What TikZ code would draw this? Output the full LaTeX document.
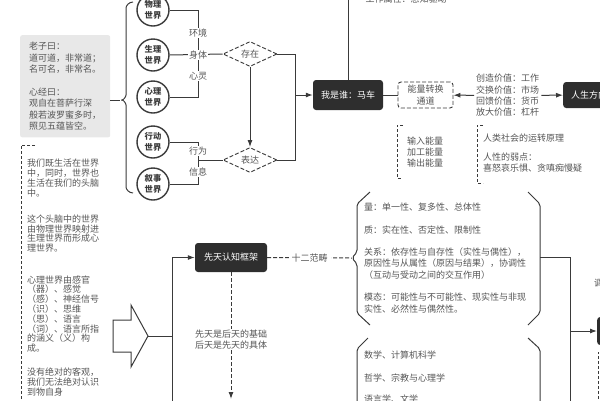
\documentclass[tikz,border=0pt]{standalone}
\usepackage{fontspec}
\setmainfont{Noto Sans CJK SC}
\usetikzlibrary{shapes.geometric,arrows.meta}
\definecolor{inkline}{HTML}{3A3A3A}
\definecolor{inktext}{HTML}{555555}
\definecolor{inkbox}{HTML}{2E2E2E}
\definecolor{inkfill}{HTML}{E8E8E8}
\newcommand{\txtfont}{\fontsize{9}{11.4}\selectfont}
\newcommand{\parafont}{\fontsize{9}{9.8}\selectfont}

\begin{document}
\begin{tikzpicture}[x=1pt, y=-1pt,
		every node/.append style={inner sep=0pt, text=inktext, font=\txtfont},
		world/.style={circle, draw=inkline, line width=1.4pt, minimum size=32pt, align=center,
			font=\fontsize{8.3}{10.5}\selectfont\bfseries, text=inkline},
		darkbox/.style={rectangle, rounded corners=3pt, fill=inkbox, text=white, minimum height=29pt, inner xsep=8pt},
		dashbox/.style={rectangle, rounded corners=3pt, draw=inkline, dash pattern=on 4pt off 2pt, line width=0.9pt,
			align=center, minimum width=55pt, minimum height=26pt},
		gate/.style={diamond, aspect=2, draw=inkline, dash pattern=on 4pt off 2pt, line width=0.9pt,
			minimum width=54pt, minimum height=25pt},
		tag/.style={fill=white, inner sep=1pt},
		note/.style={anchor=west, align=left},
		link/.style={draw=inkline, line width=1pt},
		arr/.style={link, -{Latex[length=7pt, width=5pt]}},
		dasharr/.style={arr, dash pattern=on 4pt off 2pt},
		bracket/.style={draw=inkline, line width=1pt, rounded corners=2pt},
		dashbr/.style={draw=inkline, line width=1pt, dash pattern=on 3pt off 2pt}]
	\useasboundingbox (0,0) rectangle (600,400);
	
	\node[fill=inkfill, rounded corners=2pt, anchor=north west, align=left, inner xsep=8pt, inner ysep=7pt,
		minimum width=90pt] (sage) at (20,35) {老子曰：\\道可道，非常道；\\名可名，非常名。\\[11.4pt]心经曰：\\观自在菩萨行深\\般若波罗蜜多时，\\照见五蕴皆空。};
	\coordinate (braceTip) at (120,100);
	\draw[link] (sage.east |- braceTip) -- (braceTip);
	\draw[bracket] (133,2) to[out=180, in=90] (126,10) -- (126,93) to[out=270, in=0] (braceTip)
		to[out=0, in=90] (126,107) -- (126,185) to[out=270, in=180] (133,193);
	
	\node[world] (phys) at (153,10) {物理\\世界};
	\node[world] (bio) at (153,55) {生理\\世界};
	\node[world] (mind) at (153,97) {心理\\世界};
	\node[world] (act) at (153,142) {行动\\世界};
	\node[world] (story) at (153,184) {叙事\\世界};
	
	\node[gate] (exist) at (250,54) {存在};
	\node[gate] (express) at (250,160) {表达};
	
	\coordinate (jTop) at (198,55);
	\coordinate (jBot) at (198,160);
	\draw[link] (phys.east) -| (jTop);
	\draw[link] (mind.east) -| (jTop);
	\draw[link] (bio.east) -- (exist.west);
	\draw[link] (act.east) -| (jBot);
	\draw[link] (story.east) -| (jBot);
	\draw[link] (jBot) -- (express.west);
	\node[tag] at (198,33) {环境};
	\node[tag] at (198,55) {身体};
	\node[tag] at (198,76) {心灵};
	\node[tag] at (198,151) {行为};
	\node[tag] at (198,172) {信息};
	\draw[arr] (exist) -- (express);
	
	\node[darkbox, minimum width=70pt, minimum height=30pt] (who) at (348,95) {我是谁：马车};
	\coordinate (jMid) at (295,95);
	\draw[link] (exist.east) -| (jMid);
	\draw[link] (express.east) -| (jMid);
	\draw[arr] (jMid) -- (who);
	\coordinate (whoTop) at (348,-2);
	\draw[link] (who) -- (whoTop);
	\node (duty) at (406,-1) {工作属性：感知驱动};
	
	\node[dashbox] (channel) at (425.5,95) {能量转换\\通道};
	\draw[link] (who) -- (channel);
	\node[note, inner xsep=2pt] (values) at (474,95.5) {创造价值：工作\\交换价值：市场\\回馈价值：货币\\放大价值：杠杆};
	\node[darkbox, anchor=west, minimum height=26pt] (life) at (563,95) {人生方向};
	\draw[arr] (values) -- (channel);
	\draw[arr] (values) -- (life);
	
	\draw[dashbr] (403,125) -- (397,125) -- (397,178) -- (402,178);
	\node[note] (energy) at (407,152) {输入能量\\加工能量\\输出能量};
	\draw[dashbr] (483,125) -- (477,125) -- (477,183) -- (483,183);
	\node[note] (society) at (483,153) {人类社会的运转原理\\[8pt]人性的弱点：\\喜怒哀乐惧、贪嗔痴慢疑};
	
	\draw[dashbr] (35,145) -- (21,145) -- (21,402);
	\node[note, font=\parafont] (live) at (27,178) {我们既生活在世界\\中，同时，世界也\\生活在我们的头脑\\中。};
	\node[note, font=\parafont] (mapping) at (27,233.5) {这个头脑中的世界\\由物理世界映射进\\生理世界而形成心\\理世界。};
	\node[note, font=\parafont] (senses) at (27,314) {心理世界由感官\\（器）、感觉\\（感）、神经信号\\（识）、思维\\（思）、语言\\（词）、语言所指\\的涵义（义）构\\成。};
	\node[note, font=\parafont] (object) at (27,382) {没有绝对的客观，\\我们无法绝对认识\\到物自身};
	
	\draw[link, line join=miter] (113,320) -- (131,320) -- (131,305) -- (148,336) -- (131,367) -- (131,352) -- (113,352) -- cycle;
	\coordinate (tip) at (148,336);
	\coordinate (spineMid) at (172,336);
	\coordinate (spineBot) at (172,402);
	\draw[link] (tip) -- (spineMid);
	\node[darkbox, minimum width=72pt] (innate) at (231,257.5) {先天认知框架};
	\draw[arr] (spineBot) |- (innate);
	
	\coordinate (catTip) at (352,258);
	\coordinate (innateEnd) at (231,399);
	\draw[link, dash pattern=on 4pt off 2pt] (innate) -- node[tag, inner xsep=3pt] {十二范畴} (catTip);
	\draw[dasharr] (innate) -- node[tag, pos=0.53, align=center] {先天是后天的基础\\后天是先天的具体} (innateEnd);
	
	\draw[bracket] (370,192) -- (357,204) -- (357,252) -- (catTip) -- (357,264) -- (357,313) -- (370,325);
	\draw[bracket] (528,192) -- (540,204) -- (540,313) -- (528,325);
	\node[note] (quantity) at (364,207) {量：单一性、复多性、总体性};
	\node[note] (quality) at (364,230) {质：实在性、否定性、限制性};
	\node[note] (relation) at (364,263.5) {关系：依存性与自存性（实性与偶性），\\原因性与从属性（原因与结果），协调性\\（互动与受动之间的交互作用）};
	\node[note] (modality) at (364,303) {模态：可能性与不可能性、现实性与非现\\实性、必然性与偶然性。};
	
	\draw[bracket] (368,338) -- (357,349) -- (357,402);
	\draw[bracket] (528,338) -- (540,349) -- (540,402);
	\node[note] (math) at (364,355) {数学、计算机科学};
	\node[note] (philo) at (364,378) {哲学、宗教与心理学};
	\node[note] (lang) at (364,399) {语言学、文学};
	
	\coordinate (catR) at (540,257);
	\coordinate (busTop) at (570,257);
	\coordinate (busBot) at (570,402);
	\draw[link] (catR) -- (busTop) -- (busBot);
	\node[darkbox, anchor=west, minimum width=24pt, minimum height=28pt] (nextBox) at (597,331) {};
	\draw[arr] (busTop |- nextBox.west) -- (nextBox.west);
	\node[anchor=west] (hint) at (594,283) {调};
	\draw[dashbr] (604,352) -- (598,352) -- (598,402);
\end{tikzpicture}
\end{document}
